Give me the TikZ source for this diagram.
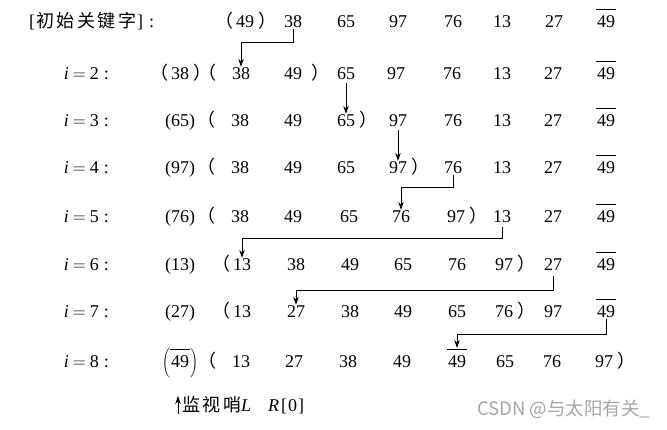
\documentclass[tikz,border=0pt]{standalone}
\usepackage{fix-cm}
\usepackage{fontspec}
\setmainfont{Liberation Serif}
\newfontfamily\cjk{Noto Sans CJK SC}
\usetikzlibrary{arrows.meta}
\newcommand\lp{\llap{\smash{\cjk （}\kern3pt}}
\newcommand\lpw{\llap{\smash{\cjk （}\kern16pt}}
\newcommand\rp{\rlap{\kern4pt\smash{\cjk ）}}}
\newcommand\rpw{\rlap{\kern9pt\smash{\cjk ）}}}
\newcommand\ovl[1]{\vbox{\hrule height 0.8pt\kern 6pt\hbox{\kern1pt#1\kern1pt}}}
\newcommand\ilab[1]{\textit{i}\hspace{4pt}$=$\hspace{4pt}#1\hspace{5pt}:}
\newcommand\cjsp{\hspace{2.5pt}}
\begin{document}
\begin{tikzpicture}[x=1pt,y=-1pt,
  num/.style={inner sep=1pt,anchor=base,font=\fontsize{18}{20}\selectfont},
  lab/.style={inner sep=1pt,anchor=base east,font=\fontsize{18}{20}\selectfont},
  arr/.style={draw=black,line width=0.9pt,-{Stealth[length=8pt,width=5.5pt]}}]
\useasboundingbox (0,0) rectangle (667,430);
% row 0
\node[inner sep=1pt,anchor=base west,font=\fontsize{18}{20}\selectfont] (r0l) at (28,28) {[\kern1pt{\cjk 初\cjsp 始\cjsp 关\cjsp 键\cjsp 字}\kern1pt]\hspace{6pt}:};
\node[num] (r0c1) at (245,28) {\lp49\rp};
\node[num] (r0c2) at (293,28) {38};
\node[num] (r0c3) at (346,28) {65};
\node[num] (r0c4) at (398,28) {97};
\node[num] (r0c5) at (453,28) {76};
\node[num] (r0c6) at (502,28) {13};
\node[num] (r0c7) at (554,28) {27};
\node[num] (r0c8) at (606,28) {\ovl{49}};
% row i=2
\node[lab] (r2l) at (110,80) {\ilab{2}};
\node[num] (r2c0) at (180,80) {\lp38\rp};
\node[num] (r2c1) at (241,80) {\lpw38};
\node[num] (r2c2) at (293,80) {49\rpw};
\node[num] (r2c3) at (346,80) {65};
\node[num] (r2c4) at (396,80) {97};
\node[num] (r2c5) at (452,80) {76};
\node[num] (r2c6) at (502,80) {13};
\node[num] (r2c7) at (553,80) {27};
\node[num] (r2c8) at (606,80) {\ovl{49}};
% row i=3
\node[lab] (r3l) at (110,127) {\ilab{3}};
\node[num] (r3c0) at (180,127) {(65)};
\node[num] (r3c1) at (240,127) {\lpw38};
\node[num] (r3c2) at (293,127) {49};
\node[num] (r3c3) at (346,127) {65\rp};
\node[num] (r3c4) at (398,127) {97};
\node[num] (r3c5) at (453,127) {76};
\node[num] (r3c6) at (502,127) {13};
\node[num] (r3c7) at (553,127) {27};
\node[num] (r3c8) at (606,127) {\ovl{49}};
% row i=4
\node[lab] (r4l) at (110,174) {\ilab{4}};
\node[num] (r4c0) at (180,174) {(97)};
\node[num] (r4c1) at (240,174) {\lpw38};
\node[num] (r4c2) at (293,174) {49};
\node[num] (r4c3) at (346,174) {65};
\node[num] (r4c4) at (398,174) {97\rp};
\node[num] (r4c5) at (453,174) {76};
\node[num] (r4c6) at (502,174) {13};
\node[num] (r4c7) at (553,174) {27};
\node[num] (r4c8) at (606,174) {\ovl{49}};
% row i=5
\node[lab] (r5l) at (110,223) {\ilab{5}};
\node[num] (r5c0) at (180,223) {(76)};
\node[num] (r5c1) at (240,223) {\lpw38};
\node[num] (r5c2) at (293,223) {49};
\node[num] (r5c3) at (349,223) {65};
\node[num] (r5c4) at (401,223) {76};
\node[num] (r5c5) at (456,223) {97\rp};
\node[num] (r5c6) at (502,223) {13};
\node[num] (r5c7) at (553,223) {27};
\node[num] (r5c8) at (606,223) {\ovl{49}};
% row i=6
\node[lab] (r6l) at (110,271) {\ilab{6}};
\node[num] (r6c0) at (180,271) {(13)};
\node[num] (r6c1) at (242,271) {\lp13};
\node[num] (r6c2) at (296,271) {38};
\node[num] (r6c3) at (350,271) {49};
\node[num] (r6c4) at (403,271) {65};
\node[num] (r6c5) at (457,271) {76};
\node[num] (r6c6) at (504,271) {97\rp};
\node[num] (r6c7) at (553,271) {27};
\node[num] (r6c8) at (606,271) {\ovl{49}};
% row i=7
\node[lab] (r7l) at (110,318) {\ilab{7}};
\node[num] (r7c0) at (180,318) {(27)};
\node[num] (r7c1) at (242,318) {\lp13};
\node[num] (r7c2) at (296,318) {27};
\node[num] (r7c3) at (350,318) {38};
\node[num] (r7c4) at (403,318) {49};
\node[num] (r7c5) at (457,318) {65};
\node[num] (r7c6) at (504,318) {76\rp};
\node[num] (r7c7) at (553,318) {97};
\node[num] (r7c8) at (606,318) {\ovl{49}};
% row i=8
\node[lab] (r8l) at (110,368) {\ilab{8}};
\node[num] (r8c0) at (180,368) {$\left(\ovl{49}\right)$};
\node[num] (r8c1) at (241,368) {\lpw13};
\node[num] (r8c2) at (294,368) {27};
\node[num] (r8c3) at (348,368) {38};
\node[num] (r8c4) at (402,368) {49};
\node[num] (r8c5) at (457,368) {\ovl{49}};
\node[num] (r8c6) at (505,368) {65};
\node[num] (r8c7) at (552,368) {76};
\node[num] (r8c8) at (604,368) {97\rp};
% arrows
\draw[arr] (r0c2.south) -- ++(0,13) -| (r2c1.north);
\draw[arr,shorten <=2pt] (r2c3.south) -- (r3c3.north);
\draw[arr,shorten <=2pt] (r3c4.south) -- (r4c4.north);
\draw[arr] (r4c5.south) -- ++(0,12) -| (r5c4.north);
\draw[arr,shorten <=3pt] (r5c6.south) -- ++(0,14) -| (r6c1.north);
\draw[arr,shorten <=4pt] (r6c7.south) -- ++(0,18) -| (r7c2.north);
\draw[arr] (r7c8.south) -- ++(0,15) -| (r8c5.north);
% sentinel note
\node[inner sep=1pt,anchor=base west,font=\fontsize{18}{20}\selectfont] (note) at (181,411) {{\cjk 监\cjsp 视\cjsp 哨}\textit{L}\hspace{17pt}\textit{R}\kern2pt[\kern1pt 0\kern1pt]};
\coordinate (sa) at (178,414);
\coordinate (sb) at (178,396);
\draw[arr] (sa) -- (sb);
% watermark
\node[inner sep=0pt,anchor=base west,text=black!35,font=\cjk\fontsize{18.5}{21}\selectfont] (wm) at (477,416) {CSDN @与太阳有关\_};
\end{tikzpicture}
\end{document}
